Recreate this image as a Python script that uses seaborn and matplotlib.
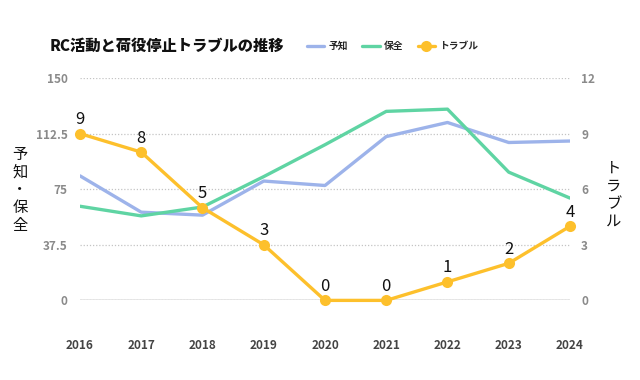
import matplotlib
matplotlib.use("Agg")
import matplotlib.pyplot as plt
import seaborn as sns
import pandas as pd

# data
years = [2016, 2017, 2018, 2019, 2020, 2021, 2022, 2023, 2024]
yochi = [84, 59.5, 57.5, 80.5, 77.5, 110.5, 120, 106.5, 107.5]   # 予知
hozen = [63.5, 57, 63, 83.5, 105, 127.5, 129, 86.5, 69]         # 保全
trouble = [9, 8, 5, 3, 0, 0, 1, 2, 4]                              # トラブル

left_ticks = [0, 37.5, 75, 112.5, 150]
right_ticks = [0, 3, 6, 9, 12]

c_yochi = "#9db3ea"
c_hozen = "#5fd4a3"
c_trouble = "#fdc02c"

df = pd.DataFrame({"year": years, "予知": yochi, "保全": hozen, "トラブル": trouble})

sns.set_theme(style="white")
plt.rcParams["font.family"] = ["Noto Sans CJK JP", "DejaVu Sans"]

fig = plt.figure(figsize=(6.4, 3.8), dpi=100)
ax = fig.add_axes([0.125, 0.2095, 0.7656, 0.5852])
ax2 = ax.twinx()

sns.lineplot(data=df, x="year", y="予知", ax=ax, color=c_yochi, linewidth=2.4,
             label="予知", legend=False)
sns.lineplot(data=df, x="year", y="保全", ax=ax, color=c_hozen, linewidth=2.4,
             label="保全", legend=False)
sns.lineplot(data=df, x="year", y="トラブル", ax=ax2, color=c_trouble, linewidth=2.4,
             marker="o", markersize=8, markeredgewidth=0, label="トラブル",
             legend=False, clip_on=False)

for x, v in zip(years, trouble):
    ax2.annotate(str(v), (x, v), xytext=(0, 4), textcoords="offset points",
                 ha="center", va="bottom", fontsize=12, color="#111111")

ax.set_xlim(years[0], years[-1])
ax.set_ylim(0, 150)
ax2.set_ylim(0, 12)
ax.set_xticks(years)
ax.set_xticklabels([str(y) for y in years])
ax.set_yticks(left_ticks)
ax.set_yticklabels(["0", "37.5", "75", "112.5", "150"])
ax2.set_yticks(right_ticks)

ax.yaxis.grid(True, linestyle=(0, (1, 1.5)), color="#c4c4c4", linewidth=0.9)
ax.axhline(0, color="#e8e8e8", linewidth=1.4, zorder=0)
ax.set_axisbelow(True)

for a in (ax, ax2):
    for s in a.spines.values():
        s.set_visible(False)
    a.set_xlabel("")
    a.set_ylabel("")

ax.tick_params(axis="y", length=0, pad=9, labelsize=8.5, labelcolor="#8a8a8a")
ax2.tick_params(axis="y", length=0, pad=8, labelsize=8.5, labelcolor="#8a8a8a")
ax.tick_params(axis="x", length=0, pad=28, labelsize=8.5, labelcolor="#444444")
for lab in ax.get_yticklabels() + ax2.get_yticklabels() + ax.get_xticklabels():
    lab.set_fontweight("bold")

# vertical stacked axis labels
fig.text(20 / 640, 1 - 190 / 380, "\n".join("予知・保全"), ha="center", va="center",
         fontsize=11, linespacing=1.05, color="#111111")
fig.text(614 / 640, 1 - 195 / 380, "\n".join("トラブル"), ha="center", va="center",
         fontsize=11, linespacing=1.05, color="#111111")

fig.text(50 / 640, 1 - 46 / 380, "RC活動と荷役停止トラブルの推移", ha="left", va="center",
         fontsize=11, fontweight="heavy", color="#111111")

h1, l1 = ax.get_legend_handles_labels()
h2, l2 = ax2.get_legend_handles_labels()
leg = fig.legend(h1 + h2, l1 + l2, loc="center left", bbox_to_anchor=(298 / 640, 1 - 46 / 380),
                 ncol=3, frameon=False, fontsize=7, handlelength=1.8,
                 columnspacing=1.5, handletextpad=0.4)
for t in leg.get_texts():
    t.set_fontweight("bold")

fig.savefig("out.png", dpi=100)
